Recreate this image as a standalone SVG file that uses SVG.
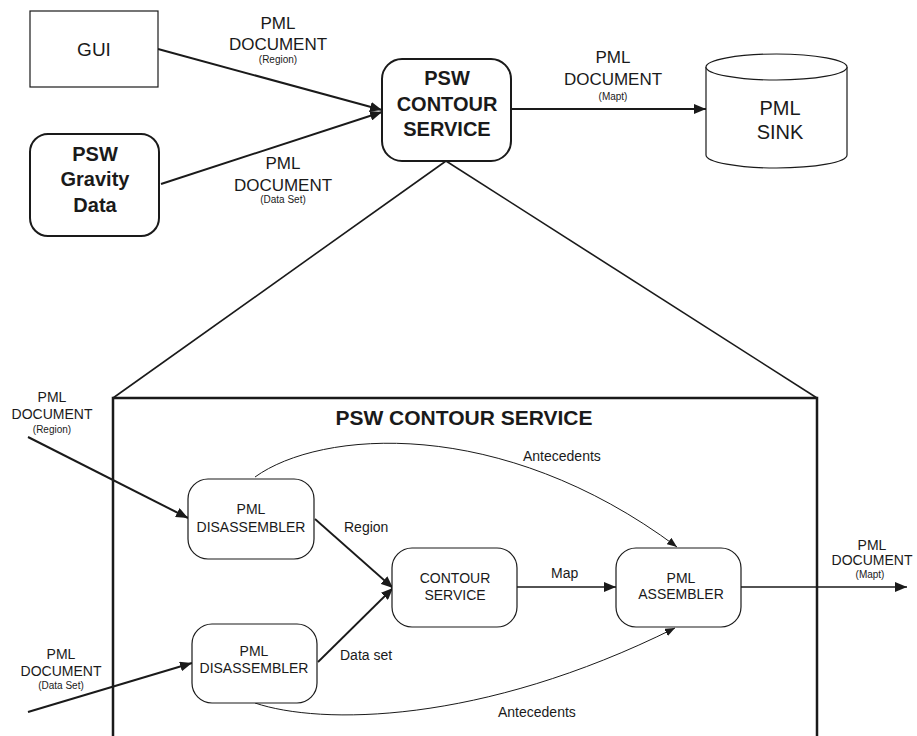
<svg xmlns="http://www.w3.org/2000/svg" width="917" height="736" viewBox="0 0 917 736">
<defs>
<style>
text{font-family:"Liberation Sans",Arial,sans-serif;fill:#1a1a1a;text-anchor:middle}
.b{font-weight:bold}
.node{fill:#fff;stroke:#1a1a1a}
.c{fill:none;stroke:#1a1a1a}
.lbl{font-size:17px}
.sm{font-size:10px}
.in{font-size:14px}
.ism{font-size:10px}
</style>
<marker id="ah" viewBox="0 0 12 10" refX="12" refY="5" markerWidth="12" markerHeight="10" markerUnits="userSpaceOnUse" orient="auto"><path d="M0,0L12,5L0,10z" fill="#1a1a1a"/></marker>
<marker id="ahs" viewBox="0 0 10 8" refX="10" refY="4" markerWidth="10" markerHeight="8" markerUnits="userSpaceOnUse" orient="auto"><path d="M0,0L10,4L0,8z" fill="#1a1a1a"/></marker>
</defs>
<rect width="917" height="736" fill="#fff"/>

<g id="connectors">
<path class="c" stroke-width="2" d="M158,49L382,110" marker-end="url(#ah)"/>
<path class="c" stroke-width="2" d="M161,184L382,112" marker-end="url(#ah)"/>
<path class="c" stroke-width="2" d="M511,109L706,109" marker-end="url(#ah)"/>
<path class="c" stroke-width="1.6" d="M446,161L113,398"/>
<path class="c" stroke-width="1.6" d="M446,161L817,398"/>
<path class="c" stroke-width="2" d="M28,437L188,518" marker-end="url(#ah)"/>
<path class="c" stroke-width="2" d="M28,712L192,663" marker-end="url(#ah)"/>
<path class="c" stroke-width="1.8" d="M315,519L393,588" marker-end="url(#ah)"/>
<path class="c" stroke-width="1.8" d="M318,662L393,588" marker-end="url(#ah)"/>
<path class="c" stroke-width="1.6" d="M517,587L616,587" marker-end="url(#ah)"/>
<path class="c" stroke-width="1.6" d="M741,587L907,587" marker-end="url(#ah)"/>
<path class="c" stroke-width="1" d="M255,477C320,430 500,415 677,547" marker-end="url(#ahs)"/>
<path class="c" stroke-width="1" d="M255,703C320,725 480,725 675,628" marker-end="url(#ahs)"/>
<text class="lbl" x="278" y="29">PML</text>
<text class="lbl" x="278" y="50">DOCUMENT</text>
<text class="sm" x="278" y="63">(Region)</text>
<text class="lbl" x="283" y="169">PML</text>
<text class="lbl" x="283" y="191">DOCUMENT</text>
<text class="sm" x="283" y="203">(Data Set)</text>
<text class="lbl" x="613" y="63">PML</text>
<text class="lbl" x="613" y="85">DOCUMENT</text>
<text class="sm" x="613" y="100">(Mapt)</text>
<text class="in" x="52" y="402">PML</text>
<text class="in" x="52" y="419">DOCUMENT</text>
<text class="ism" x="52" y="433">(Region)</text>
<text class="in" x="61" y="659">PML</text>
<text class="in" x="61" y="676">DOCUMENT</text>
<text class="ism" x="61" y="689">(Data Set)</text>
<text class="in" x="872" y="550">PML</text>
<text class="in" x="872" y="565">DOCUMENT</text>
<text class="ism" x="870" y="578">(Mapt)</text>
<text class="in" x="344" y="532" style="text-anchor:start">Region</text>
<text class="in" x="340" y="660" style="text-anchor:start">Data set</text>
<text class="in" x="551" y="578" style="text-anchor:start">Map</text>
<text class="in" x="523" y="461" style="text-anchor:start">Antecedents</text>
<text class="in" x="498" y="717" style="text-anchor:start">Antecedents</text>
</g>

<g id="gui">
<rect class="node" stroke-width="1.2" x="30" y="11" width="128" height="76"/>
<text x="94" y="56" font-size="19">GUI</text>
</g>

<g id="gravity">
<rect class="node" stroke-width="2" x="30" y="134" width="129" height="102" rx="18"/>
<text class="b" x="95" y="161" font-size="20">PSW</text>
<text class="b" x="95" y="186" font-size="20">Gravity</text>
<text class="b" x="95" y="212" font-size="20">Data</text>
</g>

<g id="psw-contour">
<rect class="node" stroke-width="2" x="382" y="59" width="129" height="102" rx="20"/>
<text class="b" x="447" y="85" font-size="20">PSW</text>
<text class="b" x="447" y="111" font-size="20">CONTOUR</text>
<text class="b" x="447" y="136" font-size="20">SERVICE</text>
</g>

<g id="sink">
<path class="node" stroke-width="1.2" d="M706,67L706,155A70.5,13 0 0 0 847,155L847,67"/>
<ellipse class="node" stroke-width="1.2" cx="776.5" cy="67" rx="70.5" ry="13"/>
<text x="780" y="115" font-size="20">PML</text>
<text x="780" y="139" font-size="20">SINK</text>
</g>

<g id="contour-service-box">
<path fill="none" stroke="#1a1a1a" stroke-width="2.5" d="M113,736L113,398L817,398L817,736"/>
<text class="b" x="464" y="425" font-size="21">PSW CONTOUR SERVICE</text>
</g>

<g id="disassembler-1">
<rect class="node" stroke-width="1.2" x="188" y="479" width="126" height="80" rx="20"/>
<text class="in" x="251" y="514">PML</text>
<text class="in" x="251" y="532">DISASSEMBLER</text>
</g>

<g id="disassembler-2">
<rect class="node" stroke-width="1.2" x="192" y="624" width="125" height="79" rx="20"/>
<text class="in" x="254" y="656">PML</text>
<text class="in" x="254" y="673">DISASSEMBLER</text>
</g>

<g id="contour-service">
<rect class="node" stroke-width="1.2" x="392" y="548" width="125" height="79" rx="20"/>
<text class="in" x="455" y="583">CONTOUR</text>
<text class="in" x="455" y="600">SERVICE</text>
</g>

<g id="assembler">
<rect class="node" stroke-width="1.2" x="616" y="548" width="125" height="79" rx="20"/>
<text class="in" x="681" y="583">PML</text>
<text class="in" x="681" y="599">ASSEMBLER</text>
</g>
</svg>
